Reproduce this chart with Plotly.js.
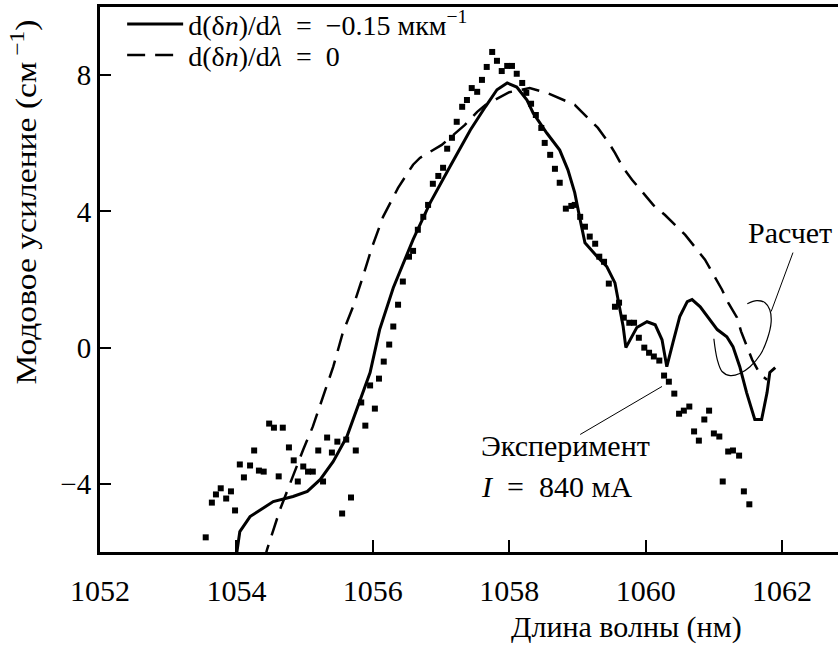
<!DOCTYPE html>
<html>
<head>
<meta charset="utf-8">
<script src="https://cdn.plot.ly/plotly-3.0.1.min.js"></script>
<style>
  html, body { margin: 0; padding: 0; background: #fff; }
  #chart { width: 838px; height: 645px; }
</style>
</head>
<body>
<div id="chart"></div>
<script>
// Experimental points (I = 840 mA)
const expWavelength = [1053.55,1053.64,1053.70,1053.77,1053.85,1053.92,1053.98,1054.05,1054.11,1054.20,
  1054.26,1054.33,1054.40,1054.48,1054.55,1054.62,1054.68,1054.77,1054.84,1054.90,
  1054.98,1055.05,1055.12,1055.20,1055.27,1055.33,1055.40,1055.48,1055.55,1055.61,
  1055.68,1055.75,1055.83,1055.89,1055.96,1056.03,1056.09,1056.16,1056.24,1056.30,
  1056.37,1056.44,1056.53,1056.59,1056.66,1056.74,1056.81,1056.88,1056.96,1057.03,
  1057.09,1057.16,1057.23,1057.31,1057.38,1057.45,1057.53,1057.60,1057.67,1057.75,
  1057.82,1057.89,1057.97,1058.04,1058.11,1058.19,1058.25,1058.32,1058.39,1058.47,
  1058.52,1058.60,1058.67,1058.74,1058.83,1058.91,1058.96,1059.04,1059.11,1059.18,
  1059.26,1059.32,1059.39,1059.46,1059.55,1059.61,1059.68,1059.76,1059.83,1059.90,
  1059.98,1060.05,1060.12,1060.20,1060.27,1060.34,1060.42,1060.49,1060.56,1060.64,
  1060.71,1060.78,1060.86,1060.93,1061.00,1061.08,1061.13,1061.21,1061.28,1061.37,
  1061.44,1061.52];
const expGain = [-5.57,-4.55,-4.31,-4.13,-4.43,-4.22,-4.78,-3.43,-3.81,-3.46,
  -3.02,-3.61,-3.64,-2.23,-2.35,-3.78,-2.35,-2.93,-3.31,-3.93,
  -3.49,-3.64,-3.64,-3.02,-3.93,-2.64,-3.08,-2.76,-4.87,-2.70,
  -4.40,-3.02,-1.61,-2.29,-1.11,-1.79,-0.91,-0.41,0.09,0.62,
  1.26,1.94,2.67,2.84,3.46,3.84,4.19,4.81,5.04,5.28,
  5.84,6.16,6.63,7.07,7.27,7.62,7.51,7.86,8.24,8.68,
  8.42,8.12,8.27,8.27,8.04,7.77,7.48,7.16,6.83,6.45,
  6.01,5.66,5.25,4.84,4.08,4.16,4.19,3.84,3.55,3.26,
  3.05,2.67,2.52,1.88,1.20,1.32,0.88,0.73,0.73,0.29,
  0.00,-0.15,-0.26,-0.38,-0.82,-1.00,-1.35,-1.94,-1.85,-1.73,
  -2.46,-2.73,-2.11,-1.85,-2.52,-2.61,-3.93,-3.05,-3.02,-3.17,
  -4.22,-4.60];

// Calculation, d(δn)/dλ = −0.15 мкм^-1 (solid)
const calcAWavelength = [1054.00,1054.05,1054.20,1054.54,1054.83,1055.04,1055.23,1055.42,1055.62,1055.81,
  1055.96,1056.10,1056.30,1056.59,1056.84,1057.13,1057.43,1057.65,1057.82,1057.97,
  1058.11,1058.26,1058.35,1058.55,1058.74,1058.86,1058.96,1059.04,1059.11,1059.29,
  1059.43,1059.55,1059.62,1059.67,1059.71,1059.87,1060.02,1060.14,1060.24,1060.31,
  1060.40,1060.50,1060.61,1060.68,1060.80,1060.94,1061.05,1061.19,1061.28,1061.38,
  1061.48,1061.60,1061.70,1061.78,1061.82,1061.90];
const calcAGain = [-6.10,-5.40,-4.96,-4.52,-4.37,-4.22,-3.87,-3.34,-2.61,-1.58,
  -0.73,0.53,1.76,3.17,4.25,5.31,6.39,7.07,7.57,7.77,
  7.65,7.27,6.89,6.30,5.80,5.22,4.55,3.75,3.08,2.67,
  2.38,1.90,1.20,0.62,0.00,0.59,0.76,0.67,0.23,-0.56,
  0.15,0.91,1.35,1.41,1.20,0.82,0.53,0.32,0.03,-0.56,
  -1.32,-2.11,-2.11,-1.32,-0.73,-0.59];

// Calculation, d(δn)/dλ = 0 (dashed)
const calcBWavelength = [1054.40,1054.45,1054.64,1054.79,1054.98,1055.12,1055.27,1055.42,1055.56,1055.71,
  1055.84,1055.99,1056.15,1056.37,1056.59,1056.69,1057.01,1057.35,1057.53,1057.65,
  1058.00,1058.30,1058.55,1058.79,1058.96,1059.14,1059.30,1059.45,1059.55,1059.67,
  1059.80,1059.96,1060.11,1060.28,1060.58,1060.87,1061.12,1061.21,1061.34,1061.40,
  1061.49,1061.56,1061.68,1061.78];
const calcBGain = [-6.30,-5.92,-4.75,-3.96,-2.99,-2.32,-1.44,-0.56,0.44,1.20,
  1.99,2.96,3.84,4.69,5.37,5.57,5.95,6.54,6.92,7.12,
  7.50,7.62,7.48,7.27,7.13,6.77,6.45,6.04,5.72,5.28,
  4.93,4.55,4.19,3.90,3.31,2.58,1.70,1.32,0.88,0.47,
  0.00,-0.35,-0.79,-0.94];

// Hand-drawn loop marking the calculated curves ("Расчет")
const loopX = [1061.49,1061.63,1061.75,1061.82,1061.84,1061.78,1061.68,1061.53,1061.38,1061.24,1061.12,1061.05,1061.00];
const loopY = [1.29,1.38,1.32,1.11,0.76,0.23,-0.21,-0.56,-0.76,-0.82,-0.70,-0.35,0.26];

const xTicks = [1052,1054,1056,1058,1060,1062];
const yTicks = [-4,0,4,8];

const legendA = 'd(δ<i>n</i>)/d<i>λ</i>\u00a0 = \u00a0−0.15 мкм<sup>−1</sup>';
const legendB = 'd(δ<i>n</i>)/d<i>λ</i>\u00a0 = \u00a00';
const xTitle = 'Длина волны (нм)';
const yTitle = 'Модовое усиление (см<sup> −1</sup>)';
const labelCalc = 'Расчет';
const labelExp1 = 'Эксперимент';
const labelExp2 = '<i>I</i>\u00a0 = \u00a0840 мА';

const FONT = 'Liberation Serif';

const traces = [
  {x: calcAWavelength, y: calcAGain, type: 'scatter', mode: 'lines', name: legendA,
   line: {color: '#000', width: 3}},
  {x: calcBWavelength, y: calcBGain, type: 'scatter', mode: 'lines', name: legendB,
   line: {color: '#000', width: 2.5, dash: '18px,10px'}},
  {x: expWavelength, y: expGain, type: 'scatter', mode: 'markers', name: 'Эксперимент',
   showlegend: false, marker: {symbol: 'square', size: 6, color: '#000'}, cliponaxis: false},
  {x: loopX, y: loopY, type: 'scatter', mode: 'lines', showlegend: false, hoverinfo: 'skip',
   line: {color: '#000', width: 1.2, shape: 'spline'}}
];

const layout = {
  width: 838, height: 645,
  margin: {l: 100, r: 0, t: 7, b: 93},
  paper_bgcolor: '#fff', plot_bgcolor: '#fff',
  font: {family: FONT, color: '#000', size: 28},
  showlegend: true,
  legend: {x: 0.03, y: 1, xanchor: 'left', yanchor: 'top', bgcolor: 'rgba(0,0,0,0)',
           itemwidth: 56,
           font: {family: FONT, size: 28, color: '#000'}, tracegroupgap: 0},
  xaxis: {range: [1052, 1062.82], tickvals: xTicks, ticks: 'inside', ticklen: 12, tickwidth: 2,
          tickcolor: '#000', showline: true, linecolor: '#000', linewidth: 3, mirror: true,
          ticklabelstandoff: 10,
          showgrid: false, zeroline: false, tickfont: {family: FONT, size: 30, color: '#000'}},
  yaxis: {range: [-6, 10], tickvals: yTicks, ticks: 'inside', ticklen: 11, tickwidth: 2,
          tickcolor: '#000', showline: true, linecolor: '#000', linewidth: 3, mirror: false,
          showgrid: false, zeroline: false, tickfont: {family: FONT, size: 29, color: '#000'}},
  shapes: [
    {type: 'line', xref: 'x', yref: 'y', x0: 1061.84, y0: 1.06, x1: 1062.16, y1: 2.79,
     line: {color: '#000', width: 1}},
    {type: 'line', xref: 'x', yref: 'y', x0: 1060.24, y0: -1.14, x1: 1059.04, y1: -2.55,
     line: {color: '#000', width: 1}}
  ],
  annotations: [
    {text: labelCalc, xref: 'x', yref: 'y', x: 1061.47, y: 3.37, xanchor: 'left', yanchor: 'middle',
     showarrow: false, font: {family: FONT, size: 30, color: '#000'}},
    {text: labelExp1, xref: 'x', yref: 'y', x: 1057.55, y: -2.87, xanchor: 'left', yanchor: 'middle',
     showarrow: false, font: {family: FONT, size: 30, color: '#000'}},
    {text: labelExp2, xref: 'x', yref: 'y', x: 1057.55, y: -4.08, xanchor: 'left', yanchor: 'middle',
     showarrow: false, font: {family: FONT, size: 30, color: '#000'}},
    {text: xTitle, xref: 'paper', yref: 'paper', x: 0.714, y: -0.1376, xanchor: 'center', yanchor: 'middle',
     showarrow: false, font: {family: FONT, size: 30, color: '#000'}},
    {text: yTitle, xref: 'paper', yref: 'paper', x: -0.103, y: 0.642, xanchor: 'center', yanchor: 'middle',
     textangle: -90, showarrow: false, font: {family: FONT, size: 30, color: '#000'}}
  ]
};

// The reference y-axis title is set in a narrow, elongated face: stretch it along its direction.
function stretchText(selector, sx, sy) {
  document.querySelectorAll(selector).forEach(function (t) {
    const b = t.getBBox();
    const cx = b.x + b.width / 2, cy = b.y + b.height / 2;
    const tr = t.getAttribute('transform') || '';
    t.setAttribute('transform', tr + ' translate(' + cx + ',' + cy + ') scale(' + sx + ',' + sy + ') translate(' + (-cx) + ',' + (-cy) + ')');
  });
}

// Tighten the legend rows like the reference.
function placeLegendRows(bottoms) {
  const rows = document.querySelectorAll('#chart .legend .traces');
  rows.forEach(function (row, i) {
    if (i >= bottoms.length) return;
    const txt = row.querySelector('text');
    if (!txt) return;
    const r = txt.getBoundingClientRect();
    const dy = bottoms[i] - r.bottom;
    const tr = row.getAttribute('transform') || '';
    row.setAttribute('transform', 'translate(0,' + dy + ') ' + tr);
  });
}

Plotly.newPlot('chart', traces, layout, {staticPlot: true, displayModeBar: false}).then(function () {
  stretchText('#chart .annotation[data-index="4"] text', 1.12, 1);
  placeLegendRows([41, 72]);
});
</script>
</body>
</html>
